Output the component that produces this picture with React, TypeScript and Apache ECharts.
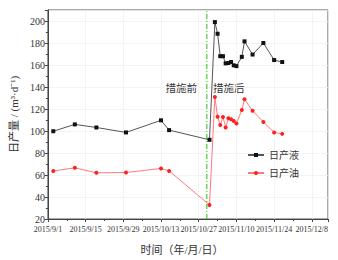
import React, { useEffect, useRef } from "react";
import * as echarts from "echarts";

const startDate = "2015/9/1";
const endDate = "2015/12/14";
const treatmentDate = "2015/10/30";
const tickStepDays = 14;
const yMin = 20;
const yMax = 210;

const liquidDates = [
  "2015/9/3", "2015/9/11", "2015/9/19", "2015/9/30", "2015/10/13", "2015/10/16", "2015/10/31",
  "2015/11/2", "2015/11/3", "2015/11/4", "2015/11/5", "2015/11/6", "2015/11/7", "2015/11/8",
  "2015/11/9", "2015/11/10", "2015/11/12", "2015/11/13", "2015/11/16", "2015/11/20", "2015/11/24", "2015/11/27",
];
const liquidValues = [
  99.8, 106, 103.2, 98.7, 109.7, 100.8, 92,
  199, 188.4, 168, 168, 161.5, 161.8, 162.7,
  159.7, 159, 167.4, 181.5, 169.5, 180, 164.5, 162.7,
];

const oilDates = [
  "2015/9/3", "2015/9/11", "2015/9/19", "2015/9/30", "2015/10/13", "2015/10/16", "2015/10/31",
  "2015/11/2", "2015/11/3", "2015/11/4", "2015/11/5", "2015/11/6", "2015/11/7", "2015/11/8",
  "2015/11/9", "2015/11/10", "2015/11/12", "2015/11/13", "2015/11/16", "2015/11/20", "2015/11/24", "2015/11/27",
];
const oilValues = [
  63.7, 66.5, 62, 62.2, 66, 63.7, 32.8,
  131, 113, 105.5, 112.7, 103.2, 111.5, 110.6,
  109, 106.8, 119, 128.8, 118.4, 108.2, 98.7, 97.4,
];

const seriesNames = ["日产液", "日产油"];
const beforeLabel = "措施前";
const afterLabel = "措施后";

const DAY = 86400000;
function toUTC(s: string) {
  const [y, m, d] = s.split("/").map(Number);
  return Date.UTC(y, m - 1, d);
}
const base = toUTC(startDate);
function dayIndex(s: string) {
  return Math.round((toUTC(s) - base) / DAY);
}
function dayLabel(v: number) {
  const dt = new Date(base + v * DAY);
  return `${dt.getUTCFullYear()}/${dt.getUTCMonth() + 1}/${dt.getUTCDate()}`;
}

const serif = "'Liberation Serif', 'Noto Sans CJK SC', serif";

export default function App() {
  const ref = useRef<HTMLDivElement>(null);
  useEffect(() => {
    if (!ref.current) return;
    const chart = echarts.init(ref.current, undefined, { renderer: "svg" });
    const liquid = liquidDates.map((d, i) => [dayIndex(d), liquidValues[i]]);
    const oil = oilDates.map((d, i) => [dayIndex(d), oilValues[i]]);
    const tDay = dayIndex(treatmentDate);
    chart.setOption({
      animation: false,
      backgroundColor: "#fff",
      textStyle: { fontFamily: serif },
      grid: {
        left: 43.5,
        right: 10,
        top: 10,
        bottom: 39,
        show: true,
        borderColor: "#555",
        borderWidth: 1,
      },
      legend: {
        orient: "vertical",
        right: 34,
        top: 145,
        itemWidth: 16,
        itemHeight: 5,
        itemGap: 8,
        textStyle: { fontSize: 10, color: "#333", fontFamily: serif },
        data: seriesNames,
      },
      xAxis: {
        type: "value",
        min: 0,
        max: dayIndex(endDate),
        interval: tickStepDays,
        name: "时间（年/月/日）",
        nameLocation: "middle",
        nameGap: 25,
        nameTextStyle: { fontSize: 11, color: "#333", padding: [0, 12, 0, 0] },
        axisLine: { lineStyle: { color: "#444" } },
        axisTick: { length: 3, lineStyle: { color: "#444" } },
        minorTick: { show: true, splitNumber: 2, length: 2, lineStyle: { color: "#444" } },
        axisLabel: {
          fontSize: 8,
          color: "#333",
          margin: 6,
          showMaxLabel: false,
          formatter: (v: number) => dayLabel(v),
        },
        splitLine: { show: true, lineStyle: { color: "#f0f0f0", width: 0.8 } },
      },
      yAxis: {
        type: "value",
        min: yMin,
        max: yMax,
        interval: 20,
        name: "日产量 / (m³·d⁻¹)",
        nameLocation: "middle",
        nameGap: 27,
        nameTextStyle: { fontSize: 11, color: "#333" },
        axisLine: { show: true, lineStyle: { color: "#444" } },
        axisTick: { show: true, length: 3, lineStyle: { color: "#444" } },
        minorTick: { show: true, splitNumber: 2, length: 2, lineStyle: { color: "#444" } },
        axisLabel: { fontSize: 10, color: "#333", margin: 3, showMaxLabel: false },
        splitLine: { show: true, lineStyle: { color: "#f0f0f0", width: 0.8 } },
      },
      series: [
        {
          name: "treatment",
          type: "line",
          data: [[tDay, yMin], [tDay, yMax]],
          symbol: "none",
          silent: true,
          z: 1,
          lineStyle: { color: "#44d030", type: [5, 2, 1, 2], width: 1.2 },
        },
        {
          name: seriesNames[0],
          type: "line",
          data: liquid,
          symbol: "rect",
          symbolSize: 4,
          z: 3,
          lineStyle: { color: "#555", width: 1 },
          itemStyle: { color: "#111" },
        },
        {
          name: seriesNames[1],
          type: "line",
          data: oil,
          symbol: "circle",
          symbolSize: 4,
          z: 3,
          lineStyle: { color: "#ff7a7a", width: 1 },
          itemStyle: { color: "#ff2020" },
        },
      ],
      graphic: [
        {
          type: "text",
          x: 197,
          y: 88,
          style: {
            text: beforeLabel,
            fontSize: 10.5,
            fill: "#333",
            fontFamily: serif,
            align: "right",
            verticalAlign: "middle",
          },
        },
        {
          type: "text",
          x: 213,
          y: 88,
          style: {
            text: afterLabel,
            fontSize: 10.5,
            fill: "#333",
            fontFamily: serif,
            align: "left",
            verticalAlign: "middle",
          },
        },
      ],
    });
    return () => chart.dispose();
  }, []);
  return <div ref={ref} style={{ width: 338, height: 260, position: "absolute", left: 0, top: 0 }} />;
}
